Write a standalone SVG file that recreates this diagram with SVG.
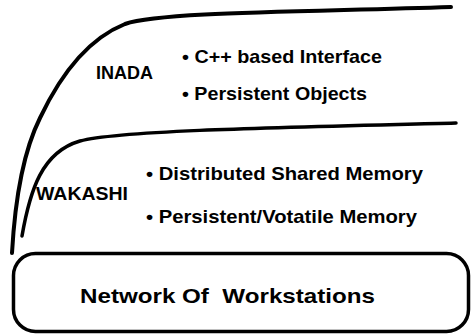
<svg xmlns="http://www.w3.org/2000/svg" width="472" height="334" viewBox="0 0 472 334">
<style>
.ln{fill:none;stroke:#000;stroke-width:3.5;stroke-linecap:round}
.t{font-family:"Liberation Sans",Arial,sans-serif;font-weight:bold;fill:#000}
.h{font-size:19px}
.b{font-size:18.5px}
.n{font-size:21px}
</style>
<rect width="472" height="334" fill="#fff"/>
<g id="connectors">
<path class="ln" d="M12,253 C15,200 24,150 40,118 C58,80 85,40 125,24 C160,12 300,12 451,7" style="stroke-width:4"/>
<path class="ln" d="M22,236 C30,190 42,152 80,141 C120,130 300,127 456,123"/>
</g>
<g id="inada">
<text class="t h" x="96" y="79" textLength="57" lengthAdjust="spacingAndGlyphs">INADA</text>
<text class="t b" x="182" y="63" textLength="200" lengthAdjust="spacingAndGlyphs">• C++ based Interface</text>
<text class="t b" x="182" y="100" textLength="185" lengthAdjust="spacingAndGlyphs">• Persistent Objects</text>
</g>
<g id="wakashi">
<text class="t h" x="36" y="200" textLength="92" lengthAdjust="spacingAndGlyphs">WAKASHI</text>
<text class="t b" x="146" y="180" textLength="277" lengthAdjust="spacingAndGlyphs">• Distributed Shared Memory</text>
<text class="t b" x="146" y="223" textLength="271" lengthAdjust="spacingAndGlyphs">• Persistent/Votatile Memory</text>
</g>
<g id="network">
<rect class="ln" x="13.5" y="253.5" width="455" height="78" rx="22"/>
<text class="t n" x="80" y="303" textLength="295" lengthAdjust="spacingAndGlyphs" xml:space="preserve">Network Of  Workstations</text>
</g>
</svg>
